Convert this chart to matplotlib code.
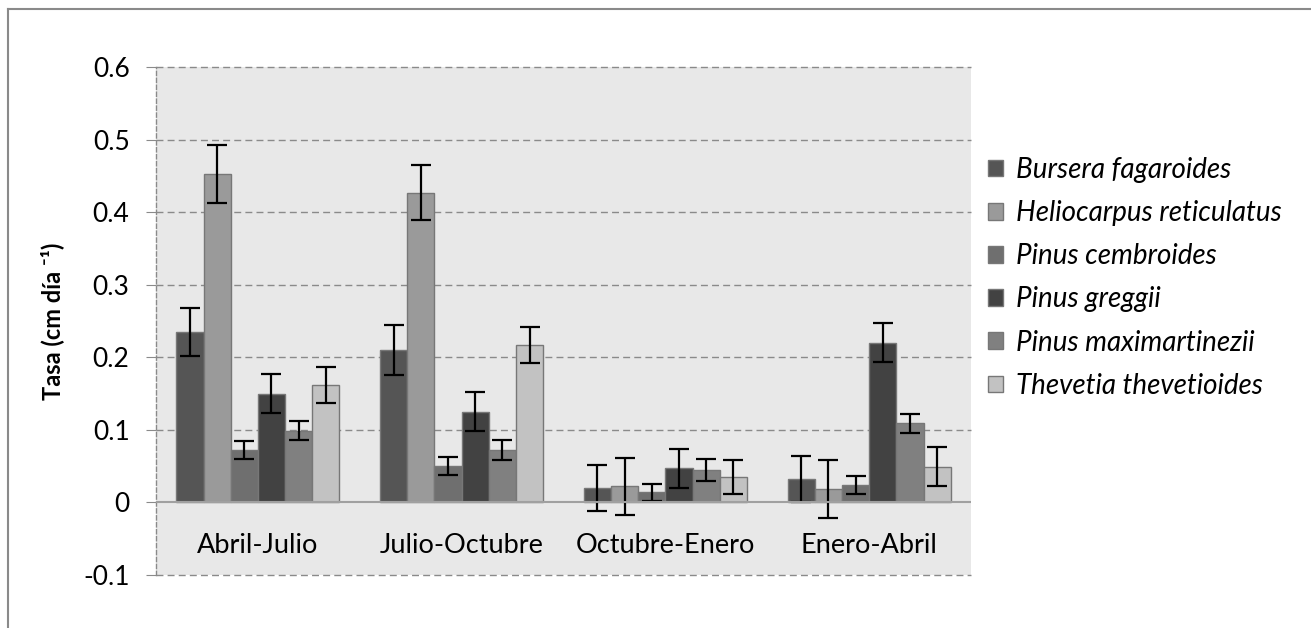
import numpy as np
from matplotlib import pyplot as plt
from matplotlib.lines import Line2D

plt.rcParams['font.family'] = ['Lato', 'DejaVu Sans']

# periods and species
periodos = ['Abril-Julio', 'Julio-Octubre', 'Octubre-Enero', 'Enero-Abril']
especies = ['Bursera fagaroides', 'Heliocarpus reticulatus', 'Pinus cembroides',
            'Pinus greggii', 'Pinus maximartinezii', 'Thevetia thevetioides']

# growth rate (cm/day) per species, one value per period
bursera = [0.235, 0.210, 0.020, 0.032]
helio = [0.452, 0.427, 0.022, 0.019]
cembroides = [0.072, 0.050, 0.014, 0.024]
greggii = [0.150, 0.125, 0.047, 0.220]
maxi = [0.099, 0.072, 0.045, 0.109]
thevetia = [0.162, 0.217, 0.035, 0.049]

# error bars
err_bursera = [0.033, 0.034, 0.032, 0.032]
err_helio = [0.040, 0.038, 0.039, 0.040]
err_cembroides = [0.012, 0.012, 0.012, 0.012]
err_greggii = [0.027, 0.027, 0.027, 0.027]
err_maxi = [0.013, 0.014, 0.015, 0.013]
err_thevetia = [0.025, 0.025, 0.024, 0.027]

valores = [bursera, helio, cembroides, greggii, maxi, thevetia]
errores = [err_bursera, err_helio, err_cembroides, err_greggii, err_maxi, err_thevetia]
colores = ['#555555', '#9a9a9a', '#6f6f6f', '#424242', '#808080', '#c2c2c2']

fig = plt.figure(figsize=(13.11, 6.28), dpi=100)
ax = fig.add_axes([0.119, 0.0844, 0.6217, 0.8089])
ax.set_facecolor('#e8e8e8')

x = np.arange(len(periodos))
n = len(especies)
w = 1 / 7.5
for i in range(n):
    pos = x + (i - (n - 1) / 2) * w
    ax.bar(pos, valores[i], width=w, color=colores[i], edgecolor='#777777',
           linewidth=1, label=especies[i], zorder=3)
    ax.errorbar(pos, valores[i], yerr=errores[i], fmt='none', ecolor='black',
                elinewidth=1.6, capsize=7.5, capthick=1.6, zorder=4)

ax.set_xlim(-0.5, len(periodos) - 0.5)
ax.set_ylim(-0.1, 0.6)
ax.set_yticks(np.arange(-0.1, 0.61, 0.1))
ax.set_yticklabels(['-0.1', '0', '0.1', '0.2', '0.3', '0.4', '0.5', '0.6'])
for yv in np.arange(-0.1, 0.61, 0.1):
    if abs(yv) < 1e-9:
        continue
    ax.axhline(yv, color='#8a8a8a', linestyle=(0, (5, 3)), linewidth=1, zorder=1,
               clip_on=False)
ax.axhline(0, color='#a0a0a0', linewidth=1.5, zorder=5)

# category labels sit under the zero line
ax.spines['bottom'].set_position(('data', 0))
ax.spines['bottom'].set_visible(False)
ax.set_xticks(x)
ax.set_xticklabels(periodos, fontsize=19.5)
ax.tick_params(axis='x', length=0, pad=22)
ax.tick_params(axis='y', length=7, color='#8a8a8a', labelsize=19, pad=12)

for s in ['top', 'right']:
    ax.spines[s].set_visible(False)
ax.spines['left'].set_color('#8a8a8a')
ax.spines['left'].set_linestyle((0, (3, 2)))
ax.spines['left'].set_linewidth(1)

ax.set_ylabel('Tasa (cm día ⁻¹)', fontsize=17, fontweight='bold', labelpad=14)

leg = ax.legend(loc='center left', bbox_to_anchor=(1.021, 0.585), frameon=False,
                prop={'style': 'italic', 'size': 20}, handlelength=0.55,
                handleheight=0.55, handletextpad=0.45, labelspacing=0.62,
                borderpad=0, borderaxespad=0)

# outer frame lines
fig.add_artist(Line2D([0.0061, 0.0061], [0, 0.986], color='#8a8a8a', linewidth=1.5))
fig.add_artist(Line2D([0.0061, 1], [0.986, 0.986], color='#8a8a8a', linewidth=1.5))

fig.savefig('out.png', dpi=100)
